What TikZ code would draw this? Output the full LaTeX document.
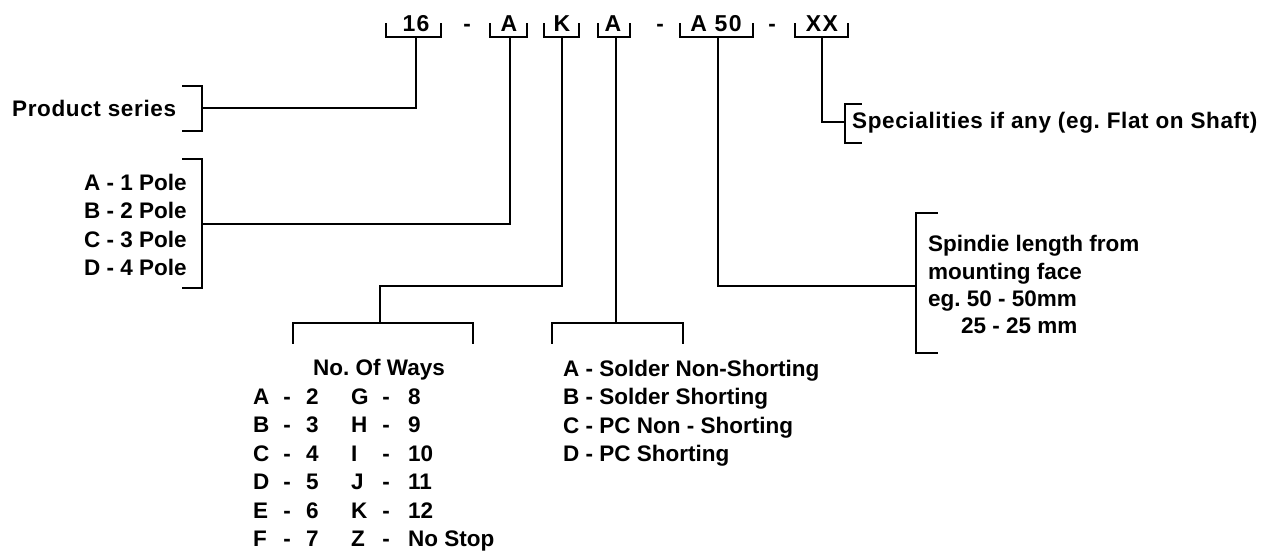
\documentclass[tikz,border=0pt]{standalone}
\usepackage{fontspec}
\setmainfont{Liberation Sans}
\frenchspacing
\begin{document}
\begin{tikzpicture}[x=1pt,y=-1pt,
  lbl/.style={inner sep=0pt,font=\fontsize{22.5}{28}\selectfont\bfseries},
  wide/.style={lbl,font=\fontsize{22.5}{28}\selectfont\bfseries\addfontfeature{LetterSpace=2.8}},
  code/.style={lbl,font=\fontsize{23}{28}\selectfont\bfseries\addfontfeature{LetterSpace=6}},
  wire/.style={line width=2.4pt,line cap=rect,line join=miter}]
\useasboundingbox (0,0) rectangle (1272,555);
% ---- top code ----
\node[code,anchor=base] (c16) at (416,31) {16};
\node[lbl,anchor=base] (d1) at (467,31) {-};
\node[code,anchor=base] (cA1) at (509,31) {A};
\node[code,anchor=base] (cK) at (562,31) {K};
\node[code,anchor=base] (cA2) at (613,31) {A};
\node[lbl,anchor=base] (d2) at (660,31) {-};
\node[code,anchor=base] (cA50) at (716,31) {A 50};
\node[lbl,anchor=base] (d3) at (772,31) {-};
\node[code,anchor=base] (cXX) at (822,31) {XX};
% code brackets
\draw[wire] (386,24) -- (386,37) -- (441,37) -- (441,24);
\draw[wire] (490,24) -- (490,37) -- (527,37) -- (527,24);
\draw[wire] (544,24) -- (544,37) -- (579,37) -- (579,24);
\draw[wire] (598,24) -- (598,37) -- (630,37) -- (630,24);
\draw[wire] (680,24) -- (680,37) -- (753,37) -- (753,24);
\draw[wire] (795,24) -- (795,37) -- (848,37) -- (848,24);
\coordinate (s16) at (416,37);
\coordinate (sA1) at (510,37);
\coordinate (sK) at (562,37);
\coordinate (sA2) at (616,37);
\coordinate (sA50) at (718,37);
\coordinate (sXX) at (822,37);
% ---- product series ----
\node[wide,anchor=base west] (ps) at (12,116) {Product series};
\draw[wire] (183,86) -- (202,86) -- (202,131) -- (183,131);
\coordinate (bps) at (202,108);
\draw[wire] (s16) |- (bps);
% ---- poles ----
\node[lbl,anchor=base west] (p1) at (84,190) {A - 1 Pole};
\node[lbl,anchor=base west] (p2) at (84,218) {B - 2 Pole};
\node[lbl,anchor=base west] (p3) at (84,247) {C - 3 Pole};
\node[lbl,anchor=base west] (p4) at (84,275) {D - 4 Pole};
\draw[wire] (183,159) -- (202,159) -- (202,288) -- (183,288);
\coordinate (bpo) at (202,224);
\draw[wire] (sA1) |- (bpo);
% ---- ways ----
\coordinate (kbend) at (380,286);
\coordinate (bways) at (380,323);
\draw[wire] (sK) |- (kbend) -- (bways);
\draw[wire] (293,343) -- (293,323) -- (473,323) -- (473,343);
\node[lbl,anchor=base] (ways) at (379,375) {No. Of Ways};
\foreach \i/\a/\n/\b/\m in {0/A/2/G/8,1/B/3/H/9,2/C/4/I/10,3/D/5/J/11,4/E/6/K/12,5/F/7/Z/No Stop}{
  \node[lbl,anchor=base west] (wl\i) at (253,404.5+28.4*\i) {\a};
  \node[lbl,anchor=base] (wd\i) at (287,404.5+28.4*\i) {-};
  \node[lbl,anchor=base west] (wn\i) at (306,404.5+28.4*\i) {\n};
  \node[lbl,anchor=base west] (wL\i) at (351,404.5+28.4*\i) {\b};
  \node[lbl,anchor=base] (wD\i) at (386,404.5+28.4*\i) {-};
  \node[lbl,anchor=base west] (wN\i) at (408,404.5+28.4*\i) {\m};
}
% ---- termination ----
\coordinate (bterm) at (616,323);
\draw[wire] (sA2) -- (bterm);
\draw[wire] (552,343) -- (552,323) -- (683,323) -- (683,343);
\node[lbl,anchor=base west] (t1) at (563,376) {A - Solder Non-Shorting};
\node[lbl,anchor=base west] (t2) at (563,404) {B - Solder Shorting};
\node[lbl,anchor=base west] (t3) at (563,433) {C - PC Non - Shorting};
\node[lbl,anchor=base west] (t4) at (563,461) {D - PC Shorting};
% ---- spindle ----
\draw[wire] (937,213) -- (916,213) -- (916,353) -- (937,353);
\coordinate (bsp) at (916,286);
\draw[wire] (sA50) |- (bsp);
\node[lbl,anchor=base west] (sp1) at (928,251) {Spindie length from};
\node[lbl,anchor=base west] (sp2) at (928,279) {mounting face};
\node[lbl,anchor=base west] (sp3) at (928,306) {eg. 50 - 50mm};
\node[lbl,anchor=base west] (sp4) at (961,333) {25 - 25 mm};
% ---- specialities ----
\draw[wire] (861,104) -- (845,104) -- (845,143) -- (861,143);
\coordinate (bxx) at (845,122);
\draw[wire] (sXX) |- (bxx);
\node[wide,anchor=base west] (spec) at (852,128) {Specialities if any (eg. Flat on Shaft)};
\end{tikzpicture}
\end{document}
